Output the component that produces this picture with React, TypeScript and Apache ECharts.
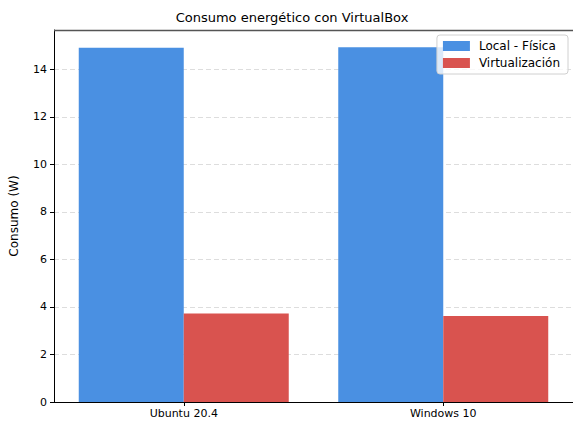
import React, { useEffect, useRef } from "react";
import * as echarts from "echarts";

const categories = ["Ubuntu 20.4", "Windows 10"];
const localValues = [14.91, 14.93];
const virtualValues = [3.73, 3.62];
const seriesNames = ["Local - Física", "Virtualización"];
const yTicks = [0, 2, 4, 6, 8, 10, 12, 14];

const FONT = "DejaVu Sans";

export default function App() {
  const ref = useRef<HTMLDivElement>(null);
  useEffect(() => {
    if (!ref.current) return;
    document.body.style.margin = "0";
    const chart = echarts.init(ref.current, null, { renderer: "svg" });
    chart.setOption({
      animation: false,
      backgroundColor: "#ffffff",
      textStyle: { fontFamily: FONT },
      title: {
        text: "Consumo energético con VirtualBox",
        left: 287,
        top: 6,
        textAlign: "center",
        textStyle: { fontFamily: FONT, fontSize: 13, fontWeight: "normal", color: "#000" },
      },
      legend: {
        right: 5,
        top: 35,
        orient: "vertical",
        itemWidth: 27,
        itemHeight: 10,
        itemGap: 5,
        padding: [5, 8, 5, 6],
        backgroundColor: "rgba(255,255,255,0.8)",
        borderColor: "#d0d0d0",
        borderWidth: 1,
        borderRadius: 3,
        textStyle: { fontFamily: FONT, fontSize: 12, color: "#000", padding: [0, 0, 0, 4] },
        data: seriesNames.map((n) => ({ name: n, icon: "rect" })),
      },
      grid: { left: 54, right: 0, top: 30, bottom: 22, containLabel: false },
      xAxis: {
        type: "category",
        data: categories,
        axisLine: { show: true, lineStyle: { color: "#000", width: 1 } },
        axisTick: { show: true, alignWithLabel: true, length: 4, lineStyle: { color: "#000" } },
        axisLabel: { fontFamily: FONT, fontSize: 11, color: "#000", margin: 6 },
        splitLine: { show: false },
      },
      yAxis: {
        type: "value",
        min: 0,
        max: 15.66,
        interval: 2,
        name: "Consumo (W)",
        nameLocation: "middle",
        nameGap: 34,
        nameTextStyle: { fontFamily: FONT, fontSize: 12, color: "#000" },
        axisLine: { show: true, lineStyle: { color: "#000", width: 1 } },
        axisTick: { show: true, length: 4, lineStyle: { color: "#000" } },
        axisLabel: {
          fontFamily: FONT,
          fontSize: 11,
          color: "#000",
          margin: 7,
          showMaxLabel: false,
          formatter: (v: number) => (yTicks.includes(v) ? String(v) : ""),
        },
        splitLine: { show: true, lineStyle: { color: "#dddddd", type: [5, 3], width: 1 } },
      },
      series: [
        {
          name: seriesNames[0],
          type: "bar",
          data: localValues,
          barWidth: 105,
          barGap: "0%",
          itemStyle: { color: "#4a90e2" },
        },
        {
          name: seriesNames[1],
          type: "bar",
          data: virtualValues,
          barWidth: 105,
          barGap: "0%",
          itemStyle: { color: "#d9534f" },
        },
      ],
      graphic: [
        {
          type: "line",
          z: 100,
          shape: { x1: 54, y1: 30.5, x2: 573, y2: 30.5 },
          style: { stroke: "#555555", lineWidth: 1.5 },
          silent: true,
        },
      ],
    });
    return () => chart.dispose();
  }, []);
  return (
    <div
      ref={ref}
      style={{ width: 573, height: 424, position: "absolute", left: 0, top: 0 }}
    />
  );
}
